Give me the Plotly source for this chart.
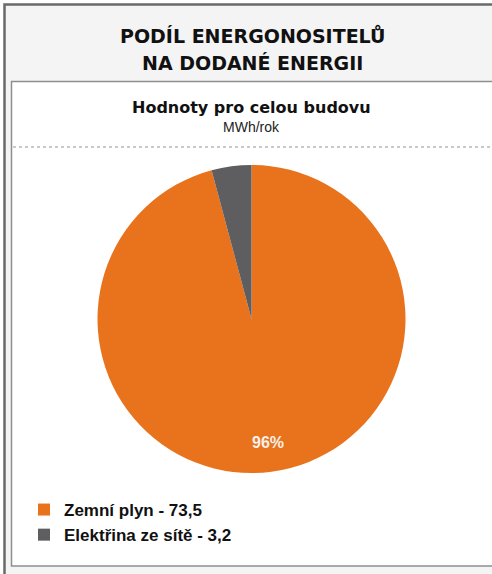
import math
import plotly.graph_objects as go

W, H = 492, 574

labels = ["Zemní plyn", "Elektřina ze sítě"]
values = [73.5, 3.2]
colors = ["#E8731C", "#5E5E60"]
legend_names = ["Zemní plyn - 73,5", "Elektřina ze sítě - 3,2"]

title_lines = ["PODÍL ENERGONOSITELŮ", "NA DODANÉ ENERGII"]
subtitle = "Hodnoty pro celou budovu"
unit = "MWh/rok"


def px_x(x):
    return x / W


def px_y(y):
    return 1 - y / H


# pie domain (pixels)
PX0, PX1, PY0, PY1 = 97.5, 405.5, 165, 473

fig = go.Figure()
fig.add_trace(go.Pie(
    labels=legend_names,
    values=values,
    marker=dict(colors=colors, line=dict(width=0)),
    sort=False,
    direction="clockwise",
    rotation=0,
    textinfo="none",
    domain=dict(x=[px_x(PX0), px_x(PX1)], y=[px_y(PY1), px_y(PY0)]),
    hoverinfo="label+percent",
))

# percentage label of the dominant slice, placed along its mid-angle
total = sum(values)
frac = values[0] / total
theta = math.radians(0.5 * frac * 360)
cx, cy = (PX0 + PX1) / 2, (PY0 + PY1) / 2
r = (PX1 - PX0) / 2
k = 0.81
lx = cx + k * r * math.sin(theta)
ly = cy - k * r * math.cos(theta)
pct_text = f"{round(frac * 100)}%"

shapes = [
    dict(type="rect", xref="paper", yref="paper", x0=px_x(4.5), x1=px_x(500), y0=px_y(582), y1=px_y(4.5),
         line=dict(color="#6a6a6a", width=2.5), fillcolor="#f4f4f4", layer="below"),
    dict(type="rect", xref="paper", yref="paper", x0=px_x(11.5), x1=px_x(500), y0=px_y(566), y1=px_y(81.5),
         line=dict(color="#8f8f8f", width=1.5), fillcolor="white", layer="below"),
    dict(type="line", xref="paper", yref="paper", x0=px_x(13), x1=px_x(490), y0=px_y(147), y1=px_y(147),
         line=dict(color="#b8b8b8", width=1.5, dash="dot"), layer="below"),
]

annotations = [
    dict(text=title_lines[0], x=px_x(252), y=px_y(35), xref="paper", yref="paper", showarrow=False,
         font=dict(family="DejaVu Sans", size=19, color="#111111", weight="bold"), xanchor="center", yanchor="middle"),
    dict(text=title_lines[1], x=px_x(252), y=px_y(63), xref="paper", yref="paper", showarrow=False,
         font=dict(family="DejaVu Sans", size=19, color="#111111", weight="bold"), xanchor="center", yanchor="middle"),
    dict(text=subtitle, x=px_x(251), y=px_y(107), xref="paper", yref="paper", showarrow=False,
         font=dict(family="DejaVu Sans", size=16, color="#111111", weight="bold"), xanchor="center", yanchor="middle"),
    dict(text=unit, x=px_x(251), y=px_y(127), xref="paper", yref="paper", showarrow=False,
         font=dict(family="Liberation Sans", size=14, color="#222222"), xanchor="center", yanchor="middle"),
    dict(text=pct_text, x=px_x(lx), y=px_y(ly), xref="paper", yref="paper", showarrow=False,
         font=dict(family="Liberation Sans", size=16, color="#f6f0ea", weight="bold"), xanchor="center", yanchor="middle"),
]

fig.update_layout(
    width=W, height=H,
    margin=dict(l=0, r=0, t=0, b=0),
    paper_bgcolor="white",
    plot_bgcolor="white",
    shapes=shapes,
    annotations=annotations,
    showlegend=True,
    legend=dict(
        x=px_x(24), y=px_y(492), xanchor="left", yanchor="top",
        font=dict(family="Liberation Sans", size=17, color="#111111", weight="bold"),
        bgcolor="rgba(0,0,0,0)", tracegroupgap=0, itemwidth=30,
    ),
)

fig.write_html("out.html")
